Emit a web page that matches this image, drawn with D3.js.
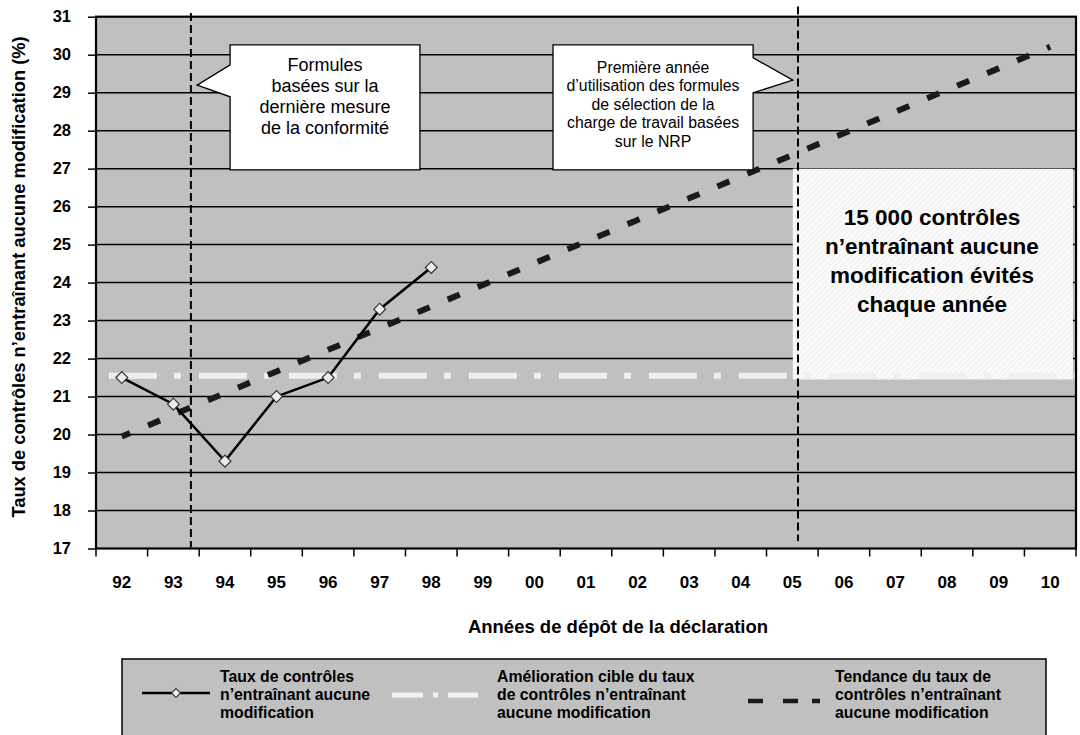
<!DOCTYPE html>
<html><head><meta charset="utf-8">
<script src="https://cdn.jsdelivr.net/npm/d3@7/dist/d3.min.js"></script>
<style>
body{margin:0;background:#fff}
svg{display:block}
text{font-family:"Liberation Sans",Arial,Helvetica,sans-serif}
</style>
</head><body>
<svg id="chart" width="1080" height="735"></svg>
<script>
// ---------- DATA ----------
const years = ["92","93","94","95","96","97","98","99","00","01","02","03","04","05","06","07","08","09","10"];
const rateYears = ["92","93","94","95","96","97","98"];
const rateValues = [21.5, 20.8, 19.3, 21.0, 21.5, 23.3, 24.4];
const targetValue = 21.55;
const trendValues = [19.95, 20.52, 21.09, 21.66, 22.23, 22.80, 23.37, 23.94, 24.51, 25.08, 25.65, 26.22, 26.79, 27.36, 27.93, 28.50, 29.07, 29.64, 30.21];
const yTickValues = [17,18,19,20,21,22,23,24,25,26,27,28,29,30,31];
// vertical markers, in fractional category index (0 = "92")
const markerIndex = [1.34, 13.11];

const yTitle = "Taux de contrôles n’entraînant aucune modification (%)";
const xTitle = "Années de dépôt de la déclaration";
const callout1 = ["Formules", "basées sur la", "dernière mesure", "de la conformité"];
const callout2 = ["Première année", "d’utilisation des formules", "de sélection de la", "charge de travail basées", "sur le NRP"];
const boxText = ["15 000 contrôles", "n’entraînant aucune", "modification évités", "chaque année"];
const legendItems = [
  ["Taux de contrôles", "n’entraînant aucune", "modification"],
  ["Amélioration cible du taux", "de contrôles n’entraînant", "aucune modification"],
  ["Tendance du taux de", "contrôles n’entraînant", "aucune modification"]
];

// ---------- LAYOUT ----------
const svg = d3.select("#chart");
const L = 96, R = 1076, T = 16.7, B = 548.5;
const x = d3.scaleBand().domain(years).range([L, R]).padding(0);
const bw = x.bandwidth();
const xc = d => x(d) + bw / 2;
const xi = i => x(years[0]) + bw / 2 + i * bw;   // fractional index
const y = d3.scaleLinear().domain([17, 31]).range([B, T]);

// hatch pattern for box
const defs = svg.append("defs");
const pat = defs.append("pattern").attr("id","hatch").attr("patternUnits","userSpaceOnUse")
  .attr("width",4).attr("height",4).attr("patternTransform","rotate(45)");
pat.append("rect").attr("width",4).attr("height",4).attr("fill","#f3f3f3");
pat.append("rect").attr("width",2).attr("height",4).attr("fill","#fcfcfc");
defs.append("clipPath").attr("id","plotclip").append("rect")
  .attr("x",L).attr("y",T).attr("width",R-L).attr("height",B-T);

// plot background
svg.append("rect").attr("x",L).attr("y",T).attr("width",R-L).attr("height",B-T).attr("fill","#c0c0c0");

// gridlines
svg.append("g").selectAll("line").data(yTickValues.slice(1,-1)).join("line")
  .attr("x1",L).attr("x2",R).attr("y1",d=>y(d)).attr("y2",d=>y(d))
  .attr("stroke","#000").attr("stroke-width",1.5);

// box (savings)
const boxX0 = xi(13.01), boxX1 = xi(18.44), boxY0 = y(27.0), boxY1 = y(21.45);
svg.append("rect").attr("x",boxX0).attr("y",boxY0).attr("width",boxX1-boxX0).attr("height",boxY1-boxY0)
  .attr("fill","url(#hatch)");

// target line (white dash-dot)
svg.append("line").attr("clip-path","url(#plotclip)")
  .attr("x1",xi(-0.25)).attr("x2",R).attr("y1",y(targetValue)).attr("y2",y(targetValue))
  .attr("stroke","#efefef").attr("stroke-width",6).attr("stroke-dasharray","48,17,7,18");

// box text
const bt = svg.append("text").attr("text-anchor","middle").attr("font-weight","bold").attr("font-size",22.5).attr("fill","#000");
boxText.forEach((t,i)=>bt.append("tspan").attr("x",932).attr("y",y(27.0)+56+i*29).text(t));

// vertical dashed markers
const vTop = [31.1, 31.27], vBot = [17.03, 17.2];
svg.append("g").selectAll("line").data(markerIndex).join("line")
  .attr("x1",d=>xi(d)).attr("x2",d=>xi(d))
  .attr("y1",(d,i)=>y(vTop[i])).attr("y2",(d,i)=>y(vBot[i]))
  .attr("stroke","#000").attr("stroke-width",2).attr("stroke-dasharray","8,4");

// trend line
svg.append("path").datum(trendValues)
  .attr("d", d3.line().x((d,i)=>xc(years[i])).y(d=>y(d)))
  .attr("fill","none").attr("stroke","#1a1a1a").attr("stroke-width",6).attr("stroke-dasharray","13,19.5")
  .attr("stroke-dashoffset",4);

// rate line
svg.append("path").datum(rateValues)
  .attr("d", d3.line().x((d,i)=>xc(rateYears[i])).y(d=>y(d)))
  .attr("fill","none").attr("stroke","#000").attr("stroke-width",2.5).attr("stroke-linejoin","miter");
svg.append("g").selectAll("path").data(rateValues).join("path")
  .attr("d", d3.symbol().type(d3.symbolSquare).size(70)())
  .attr("transform",(d,i)=>`translate(${xc(rateYears[i])},${y(d)}) rotate(45)`)
  .attr("fill","#ececec").attr("stroke","#333").attr("stroke-width",1.2);

// plot border
svg.append("rect").attr("x",L).attr("y",T).attr("width",R-L).attr("height",B-T)
  .attr("fill","none").attr("stroke","#000").attr("stroke-width",2.2);

// callout 1 (pointer to the left)
{
  const x0 = xi(2.1), x1 = xi(5.78), y0 = y(30.26), y1 = y(26.97);
  const tipX = xi(1.46), tipY = y(29.2);
  const p = `M${x0},${y0} H${x1} V${y1} H${x0} V${y0+52} L${tipX},${tipY} L${x0},${y0+20} Z`;
  svg.append("path").attr("d",p).attr("fill","#fff").attr("stroke","#000").attr("stroke-width",1.3);
  const t = svg.append("text").attr("text-anchor","middle").attr("font-size",18).attr("fill","#000");
  callout1.forEach((s,i)=>t.append("tspan").attr("x",(x0+x1)/2).attr("y",y0+26+i*21).text(s));
}
// callout 2 (pointer to the right)
{
  const x0 = xi(8.36), x1 = xi(12.24), y0 = y(30.26), y1 = y(26.97);
  const tipX = xi(13.01), tipY = y(29.33);
  const p = `M${x0},${y0} H${x1} V${y0+13} L${tipX},${tipY} L${x1},${y0+48} V${y1} H${x0} Z`;
  svg.append("path").attr("d",p).attr("fill","#fff").attr("stroke","#000").attr("stroke-width",1.3);
  const t = svg.append("text").attr("text-anchor","middle").attr("font-size",15.8).attr("fill","#000");
  callout2.forEach((s,i)=>t.append("tspan").attr("x",(x0+x1)/2).attr("y",y0+28+i*18.5).text(s));
}

// y axis
const yAxis = svg.append("g").attr("transform",`translate(${L},0)`)
  .call(d3.axisLeft(y).tickValues(yTickValues).tickFormat(d3.format("d")).tickSize(8).tickPadding(17));
yAxis.select(".domain").remove();
yAxis.selectAll(".tick line").attr("stroke","#000").attr("stroke-width",1.5);
yAxis.selectAll(".tick text").attr("font-size",16.5).attr("font-weight","bold").attr("fill","#000")
  .style("font-family",'"Liberation Sans",Arial,sans-serif');

// x axis
const xAxis = svg.append("g").attr("transform",`translate(0,${B})`)
  .call(d3.axisBottom(x).tickSize(0).tickPadding(27));
xAxis.select(".domain").remove();
xAxis.selectAll(".tick text").attr("font-size",17).attr("font-weight","bold").attr("fill","#000")
  .style("font-family",'"Liberation Sans",Arial,sans-serif');
// boundary ticks
svg.append("g").selectAll("line").data(d3.range(years.length+1)).join("line")
  .attr("x1",i=>L+i*bw).attr("x2",i=>L+i*bw).attr("y1",B).attr("y2",B+8)
  .attr("stroke","#000").attr("stroke-width",1.5);

// axis titles
svg.append("text").attr("transform",`translate(25,277) rotate(-90)`)
  .attr("text-anchor","middle").attr("font-weight","bold").attr("font-size",18.3).text(yTitle);
svg.append("text").attr("x",618).attr("y",633).attr("text-anchor","middle")
  .attr("font-weight","bold").attr("font-size",18.5).text(xTitle);

// legend
svg.append("rect").attr("x",122).attr("y",659).attr("width",924).attr("height",90)
  .attr("fill","#c0c0c0").attr("stroke","#000").attr("stroke-width",1.5);
const lg = svg.append("g");
// item 1
lg.append("line").attr("x1",142).attr("x2",210).attr("y1",693).attr("y2",693).attr("stroke","#000").attr("stroke-width",2.5);
lg.append("path").attr("d",d3.symbol().type(d3.symbolSquare).size(40)()).attr("transform","translate(176,693) rotate(45)")
  .attr("fill","#ececec").attr("stroke","#333").attr("stroke-width",1.1);
// item 2
lg.append("line").attr("x1",392).attr("x2",478).attr("y1",695).attr("y2",695).attr("stroke","#f2f2f2").attr("stroke-width",5)
  .attr("stroke-dasharray","31,10,5,10,30");
// item 3
lg.append("line").attr("x1",748).attr("x2",820).attr("y1",701).attr("y2",701).attr("stroke","#1a1a1a").attr("stroke-width",4.5)
  .attr("stroke-dasharray","15,20,15,14,8");
const legX = [220, 497, 835];
legendItems.forEach((lines,k)=>{
  const t = lg.append("text").attr("font-weight","bold").attr("font-size",15.8).attr("fill","#000");
  lines.forEach((s,i)=>t.append("tspan").attr("x",legX[k]).attr("y",682+i*18).text(s));
});
</script>
</body></html>
